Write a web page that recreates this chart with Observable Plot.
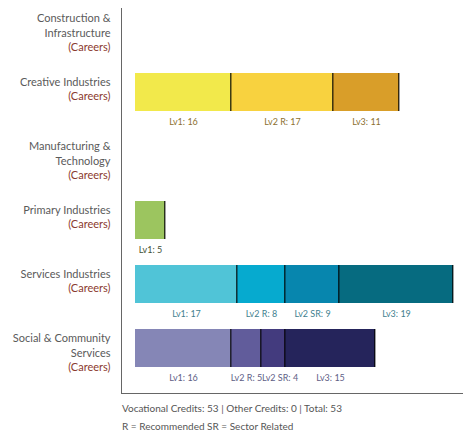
<!DOCTYPE html>
<html>
<head>
<meta charset="utf-8">
<script src="https://cdn.jsdelivr.net/npm/d3@7"></script>
<script src="https://cdn.jsdelivr.net/npm/@observablehq/plot@0.6"></script>
<style>
  html, body { margin: 0; padding: 0; background: #fff; }
  #chart { width: 463px; }
  .caption { font-family: Lato, sans-serif; font-size: 10px; color: #555; padding-left: 122px; line-height: 18px; margin-top: 2px; }
</style>
</head>
<body>
<div id="chart"></div>
<script>
const categories = ["Construction & Infrastructure", "Creative Industries", "Manufacturing & Technology", "Primary Industries", "Services Industries", "Social & Community Services"];
const categoryLines = ["Construction &\nInfrastructure", "Creative Industries", "Manufacturing &\nTechnology", "Primary Industries", "Services Industries", "Social & Community\nServices"];
const subLabel = "(Careers)";

const segCategory = ["Creative Industries", "Creative Industries", "Creative Industries",
  "Primary Industries",
  "Services Industries", "Services Industries", "Services Industries", "Services Industries",
  "Social & Community Services", "Social & Community Services", "Social & Community Services", "Social & Community Services"];
const segLevel = ["Lv1", "Lv2 R", "Lv3", "Lv1", "Lv1", "Lv2 R", "Lv2 SR", "Lv3", "Lv1", "Lv2 R", "Lv2 SR", "Lv3"];
const segValue = [16, 17, 11, 5, 17, 8, 9, 19, 16, 5, 4, 15];

const segColors = ["#f2e94b", "#f8d23f", "#d99e29", "#9cc55f", "#50c4d7", "#06aacf", "#0786ae", "#066b80", "#8586b6", "#615c9b", "#433b7e", "#25245b"];
const labelColorsByCategory = ["#8c7030", "#8c7030", "#8c7030", "#3f4f33", "#3f7f8f", "#3f7f8f", "#3f7f8f", "#3f7f8f", "#5e5e86", "#5e5e86", "#5e5e86", "#5e5e86"];

const captionLines = ["Vocational Credits: 53 | Other Credits: 0 | Total: 53", "R = Recommended SR = Sector Related"];

// build stacked table
const cum = {};
const segs = segValue.map((v, i) => {
  const c = segCategory[i];
  const x1 = cum[c] || 0;
  const x2 = x1 + v;
  cum[c] = x2;
  return {key: i, cat: c, level: segLevel[i], value: v, x1, x2, mid: (x1 + x2) / 2, label: `${segLevel[i]}: ${v}`};
});
// labels too narrow for their segment get nudged right (simple collision avoidance)
const crowded = segs.filter((d, i) => i > 0 && segs[i - 1].cat === d.cat && (d.value + segs[i - 1].value) < 10);
const regular = segs.filter(d => !crowded.includes(d));
const cats = categories.map((c, i) => ({cat: c, name: categoryLines[i], lines: categoryLines[i].split("\n").length}));

const font = "Lato, sans-serif";
const nameOpts = {y: "cat", text: "name", frameAnchor: "left", dx: -11, textAnchor: "end", lineAnchor: "middle", lineHeight: 15 / 11, fontSize: 11, fill: "#5a5a5a"};
const subOpts = {y: "cat", text: () => subLabel, frameAnchor: "left", dx: -11, textAnchor: "end", lineAnchor: "middle", fontSize: 11, fill: "#8b3a2e"};
const segLabelOpts = {x: "mid", y: "cat", text: "label", dy: 29.5, fontSize: 9, fill: (d) => labelColorsByCategory[d.key]};

const chart = Plot.plot({
  width: 463,
  height: 397,
  marginLeft: 121,
  marginRight: 0,
  marginTop: 8,
  marginBottom: 4,
  style: {fontFamily: font, background: "#fff"},
  x: {domain: [0, 53], range: [135, 453], axis: null},
  y: {domain: categories, range: [-4, 380], padding: 0, axis: null},
  color: {domain: segs.map(d => d.key), range: segColors},
  marks: [
    Plot.frame({anchor: "left", stroke: "#666", strokeWidth: 1}),
    Plot.frame({anchor: "bottom", stroke: "#666", strokeWidth: 1}),
    Plot.barX(segs, {x1: "x1", x2: "x2", y: "cat", fill: "key", insetTop: 13, insetBottom: 13}),
    Plot.tickX(segs, {x: "x2", y: "cat", stroke: "#000", strokeOpacity: 0.75, strokeWidth: 1.5, dx: -0.75, insetTop: 13, insetBottom: 13}),
    Plot.text(regular, segLabelOpts),
    Plot.text(crowded, {...segLabelOpts, dx: 6.5}),
    Plot.text(cats.filter(d => d.lines === 1), {...nameOpts, dy: -11}),
    Plot.text(cats.filter(d => d.lines === 2), {...nameOpts, dy: -3.5}),
    Plot.text(cats.filter(d => d.lines === 1), {...subOpts, dy: 4}),
    Plot.text(cats.filter(d => d.lines === 2), {...subOpts, dy: 19})
  ]
});
document.getElementById("chart").appendChild(chart);
const cap = document.createElement("div");
cap.className = "caption";
cap.innerHTML = captionLines.map(t => `<div>${t}</div>`).join("");
document.getElementById("chart").appendChild(cap);
</script>
</body>
</html>
